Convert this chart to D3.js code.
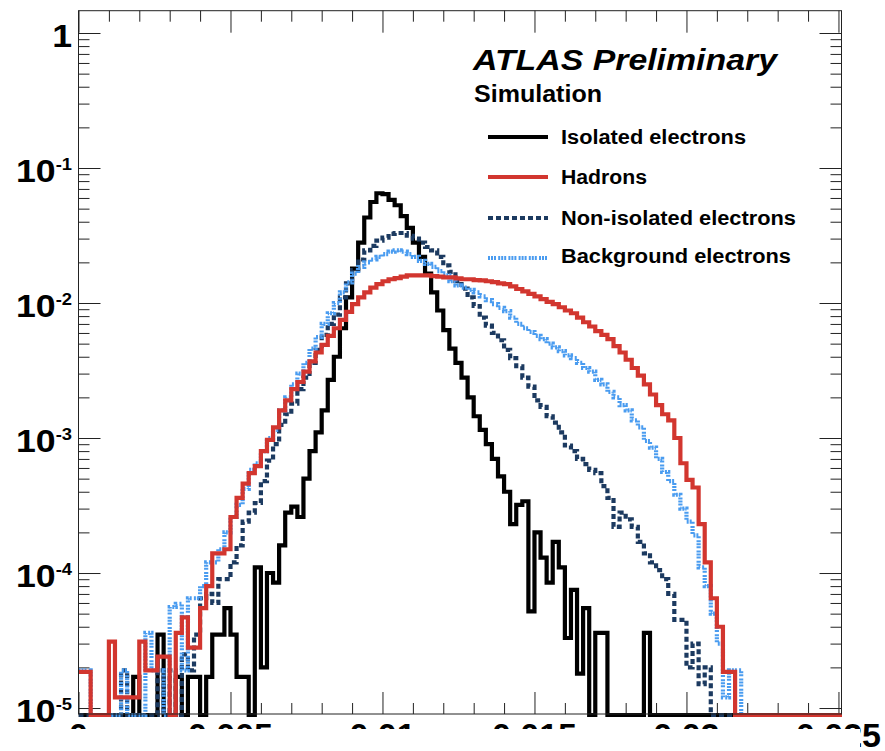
<!DOCTYPE html>
<html>
<head>
<meta charset="utf-8">
<script src="https://cdn.jsdelivr.net/npm/d3@7/dist/d3.min.js"></script>
<style>
  body { margin: 0; background: #fff; }
  svg { display: block; font-family: "Liberation Sans", Arial, Helvetica, sans-serif; }
</style>
</head>
<body>
<svg id="chart" width="885" height="751"></svg>
<script>
// histogram contents, bins of 0.0002 starting at 0 (126 bins)
const binWidth = 0.0002;

const isolatedElectrons = [
  0, 0, 0, 0, 0, 0, 0, 0, 0, 1.7e-5,
  0, 0, 0, 3.5e-5, 0, 0, 1.7e-5, 0, 1.7e-5, 1.7e-5,
  0, 1.7e-5, 3.5e-5, 3.5e-5, 5.5e-5, 3.5e-5, 1.7e-5, 1.7e-5, 0, 1.1e-4,
  2.0e-5, 1.0e-4, 8.5e-5, 1.6e-4, 2.8e-4, 3.1e-4, 2.6e-4, 5.0e-4, 8.0e-4, 1.1e-3,
  1.6e-3, 2.7e-3, 4.0e-3, 6.5e-3, 1.1e-2, 1.8e-2, 2.8e-2, 4.3e-2, 5.6e-2, 6.5e-2,
  6.4e-2, 5.8e-2, 5.3e-2, 4.4e-2, 3.6e-2, 2.8e-2, 2.2e-2, 1.65e-2, 1.2e-2, 8.8e-3,
  6.3e-3, 4.6e-3, 3.6e-3, 2.8e-3, 2.0e-3, 1.45e-3, 1.15e-3, 9.0e-4, 7.0e-4, 5.2e-4,
  4.0e-4, 2.3e-4, 3.2e-4, 3.4e-4, 5.2e-5, 2.0e-4, 1.3e-4, 8.5e-5, 1.7e-4, 1.1e-4,
  3.3e-5, 7.5e-5, 1.8e-5, 5.5e-5, 0, 3.6e-5, 3.6e-5, 0, 0, 0,
  0, 0, 0, 3.6e-5, 0, 0, 0, 0, 0, 0,
  0, 0, 0, 0, 0, 0, 0, 0, 0, 0,
  0, 0, 0, 0, 0, 0, 0, 0, 0, 0,
  0, 0, 0, 0, 0, 0
];

const hadrons = [
  1.85e-5, 1.85e-5, 0, 0, 0, 3.1e-5, 1.2e-5, 1.2e-5, 1.2e-5, 1.2e-5,
  3.1e-5, 1.9e-5, 1.9e-5, 2.4e-5, 2.4e-5, 0, 3.6e-5, 4.7e-5, 2.8e-5, 2.8e-5,
  5.5e-5, 8.0e-5, 1.4e-4, 1.4e-4, 1.5e-4, 2.6e-4, 3.6e-4, 4.6e-4, 5.5e-4, 6.2e-4,
  8.0e-4, 9.7e-4, 1.2e-3, 1.6e-3, 1.9e-3, 2.3e-3, 2.6e-3, 3.1e-3, 3.7e-3, 4.3e-3,
  4.9e-3, 5.7e-3, 6.5e-3, 7.5e-3, 8.6e-3, 9.8e-3, 1.1e-2, 1.2e-2, 1.3e-2, 1.38e-2,
  1.45e-2, 1.5e-2, 1.53e-2, 1.57e-2, 1.6e-2, 1.6e-2, 1.6e-2, 1.6e-2, 1.58e-2, 1.57e-2,
  1.55e-2, 1.55e-2, 1.52e-2, 1.5e-2, 1.5e-2, 1.48e-2, 1.47e-2, 1.45e-2, 1.43e-2, 1.4e-2,
  1.38e-2, 1.33e-2, 1.27e-2, 1.22e-2, 1.17e-2, 1.12e-2, 1.07e-2, 1.02e-2, 9.8e-3, 9.3e-3,
  8.8e-3, 8.4e-3, 7.8e-3, 7.2e-3, 6.7e-3, 6.2e-3, 5.8e-3, 5.4e-3, 4.8e-3, 4.3e-3,
  3.8e-3, 3.3e-3, 2.9e-3, 2.5e-3, 2.1e-3, 1.75e-3, 1.5e-3, 1.35e-3, 1.0e-3, 6.5e-4,
  4.9e-4, 4.3e-4, 2.3e-4, 1.2e-4, 6.5e-5, 4.0e-5, 1.85e-5, 1.85e-5, 0, 0,
  0, 0, 0, 0, 0, 0, 0, 0, 0, 0,
  0, 0, 0, 0, 0, 0
];

const nonIsolatedElectrons = [
  0, 0, 0, 0, 0, 0, 0, 1.9e-5, 0, 0,
  0, 0, 0, 1.9e-5, 0, 1.9e-5, 0, 2.5e-5, 1.9e-5, 3.5e-5,
  6.5e-5, 7.0e-5, 6.0e-5, 9.0e-5, 9.0e-5, 1.2e-4, 1.6e-4, 2.4e-4, 2.8e-4, 3.3e-4,
  4.8e-4, 6.8e-4, 9.0e-4, 1.25e-3, 1.5e-3, 1.8e-3, 2.3e-3, 2.8e-3, 3.6e-3, 4.5e-3,
  5.8e-3, 7.0e-3, 8.2e-3, 1.1e-2, 1.4e-2, 1.75e-2, 2.1e-2, 2.45e-2, 2.65e-2, 2.9e-2,
  3.05e-2, 3.25e-2, 3.3e-2, 3.3e-2, 3.15e-2, 3.0e-2, 2.8e-2, 2.6e-2, 2.45e-2, 2.2e-2,
  1.9e-2, 1.7e-2, 1.45e-2, 1.28e-2, 1.1e-2, 9.5e-3, 7.8e-3, 6.8e-3, 6.0e-3, 5.3e-3,
  4.5e-3, 3.9e-3, 3.4e-3, 2.8e-3, 2.4e-3, 1.9e-3, 1.7e-3, 1.45e-3, 1.3e-3, 1.1e-3,
  8.8e-4, 8.0e-4, 7.0e-4, 6.4e-4, 5.8e-4, 5.5e-4, 4.4e-4, 3.6e-4, 2.2e-4, 2.8e-4,
  2.5e-4, 2.2e-4, 1.7e-4, 1.4e-4, 1.2e-4, 1.05e-4, 9.0e-5, 7.0e-5, 4.5e-5, 4.5e-5,
  2.0e-5, 3.0e-5, 1.5e-5, 2.0e-5, 0, 0, 0, 0, 0, 0,
  0, 0, 0, 0, 0, 0, 0, 0, 0, 0,
  0, 0, 0, 0, 0, 0
];

const backgroundElectrons = [
  1.9e-5, 1.9e-5, 0, 0, 0, 0, 0, 1.9e-5, 0, 0,
  0, 3.6e-5, 1.9e-5, 1.9e-5, 0, 5.6e-5, 5.9e-5, 1.9e-5, 6.5e-5, 6.5e-5,
  8.0e-5, 1.2e-4, 1.2e-4, 1.5e-4, 2.0e-4, 2.6e-4, 3.2e-4, 4.2e-4, 5.8e-4, 6.5e-4,
  8.0e-4, 1.0e-3, 1.15e-3, 1.6e-3, 2.0e-3, 2.5e-3, 3.0e-3, 3.6e-3, 4.6e-3, 5.6e-3,
  7.0e-3, 8.4e-3, 1.0e-2, 1.2e-2, 1.42e-2, 1.65e-2, 1.85e-2, 2.0e-2, 2.1e-2, 2.2e-2,
  2.3e-2, 2.4e-2, 2.45e-2, 2.4e-2, 2.3e-2, 2.2e-2, 2.05e-2, 1.95e-2, 1.85e-2, 1.72e-2,
  1.6e-2, 1.45e-2, 1.35e-2, 1.3e-2, 1.25e-2, 1.2e-2, 1.12e-2, 1.05e-2, 9.8e-3, 9.2e-3,
  8.7e-3, 7.8e-3, 7.0e-3, 6.5e-3, 6.1e-3, 5.7e-3, 5.4e-3, 5.0e-3, 4.7e-3, 4.4e-3,
  4.1e-3, 3.9e-3, 3.6e-3, 3.3e-3, 3.1e-3, 2.7e-3, 2.5e-3, 2.2e-3, 2.0e-3, 1.75e-3,
  1.6e-3, 1.35e-3, 1.2e-3, 9.5e-4, 8.5e-4, 7.0e-4, 5.6e-4, 4.8e-4, 3.8e-4, 3.0e-4,
  2.4e-4, 1.9e-4, 1.1e-4, 8.0e-5, 5.0e-5, 3.0e-5, 1.2e-5, 1.9e-5, 1.9e-5, 0,
  0, 0, 0, 0, 0, 0, 0, 0, 0, 0,
  0, 0, 0, 0, 0, 0
];

const xMajorTicks = [0, 0.005, 0.01, 0.015, 0.02, 0.025];
const xTickLabels = ["0", "0.005", "0.01", "0.015", "0.02", "0.025"];
const yDecades = [1e-5, 1e-4, 1e-3, 1e-2, 1e-1, 1];
const yDecadeExp = [-5, -4, -3, -2, -1, 0];

const series = [
  { name: "Isolated electrons", values: isolatedElectrons, color: "#000000", dash: null },
  { name: "Hadrons", values: hadrons, color: "#d2362f", dash: null },
  { name: "Non-isolated electrons", values: nonIsolatedElectrons, color: "#1c3a60", dash: "5,3" },
  { name: "Background electrons", values: backgroundElectrons, color: "#4a9cf0", dash: "2,1,2,1,2,2.2" }
];
// drawing order in the frame (red on top)
const drawOrder = [0, 2, 3, 1];

const d3 = window.d3;
const svg = d3.select("#chart");

const frame = { left: 78.5, right: 841.5, top: 10.7, bottom: 714 };
const lineW = 4.2;

const x = d3.scaleLinear().domain([0, 0.0251]).range([frame.left, frame.right]);
const y = d3.scaleLog().domain([9.03e-6, 1.463]).range([frame.bottom, frame.top]);

// ticks
const xMinor = d3.range(0, 26).map(i => i * 0.001).filter(v => !xMajorTicks.some(m => Math.abs(m - v) < 1e-9));
const yMinor = [];
for (const d of yDecades) {
  for (let k = 2; k <= 9; k++) {
    const v = d * k;
    if (v >= y.domain()[0] && v <= y.domain()[1]) yMinor.push(v);
  }
}

function tickGroup(axis, transform) {
  svg.append("g")
    .attr("transform", transform)
    .call(axis.tickFormat(""))
    .call(g => g.select(".domain").remove())
    .call(g => g.selectAll(".tick line").attr("stroke", "#222").attr("stroke-width", 1));
}

tickGroup(d3.axisLeft(y).tickValues(yDecades).tickSize(-22), `translate(${frame.left},0)`);
tickGroup(d3.axisLeft(y).tickValues(yMinor).tickSize(-11), `translate(${frame.left},0)`);
tickGroup(d3.axisRight(y).tickValues(yDecades).tickSize(-22), `translate(${frame.right},0)`);
tickGroup(d3.axisRight(y).tickValues(yMinor).tickSize(-11), `translate(${frame.right},0)`);
tickGroup(d3.axisBottom(x).tickValues(xMajorTicks).tickSize(-22), `translate(0,${frame.bottom})`);
tickGroup(d3.axisBottom(x).tickValues(xMinor).tickSize(-11), `translate(0,${frame.bottom})`);
tickGroup(d3.axisTop(x).tickValues(xMajorTicks).tickSize(-22), `translate(0,${frame.top})`);
tickGroup(d3.axisTop(x).tickValues(xMinor).tickSize(-11), `translate(0,${frame.top})`);

// histograms
svg.append("defs").append("clipPath")
  .attr("id", "clipFrame")
  .append("rect")
  .attr("x", frame.left)
  .attr("y", frame.top)
  .attr("width", frame.right - frame.left + 0.5)
  .attr("height", frame.bottom - frame.top + 3.5);

const stepLine = d3.line().curve(d3.curveStepAfter);

function histPoints(values) {
  const yFloor = y.range()[0] + 1;
  const pts = values.map((v, i) => [x(i * binWidth), v > 0 ? y(v) : yFloor]);
  const last = values[values.length - 1];
  pts.push([x(values.length * binWidth), last > 0 ? y(last) : yFloor]);
  return pts;
}

const gHist = svg.append("g").attr("clip-path", "url(#clipFrame)");
for (const idx of drawOrder) {
  const s = series[idx];
  gHist.append("path")
    .attr("d", stepLine(histPoints(s.values)))
    .attr("fill", "none")
    .attr("stroke", s.color)
    .attr("stroke-width", lineW)
    .attr("stroke-dasharray", s.dash)
    .attr("stroke-linejoin", "miter");
}

// frame
svg.append("rect")
  .attr("x", frame.left)
  .attr("y", frame.top)
  .attr("width", frame.right - frame.left)
  .attr("height", frame.bottom - frame.top)
  .attr("fill", "none")
  .attr("stroke", "#222")
  .attr("stroke-width", 1);

// y labels
yDecades.forEach((v, i) => {
  const g = svg.append("g")
    .attr("transform", `translate(72,${y(v) + 14}) scale(1.15,1)`);
  const t = g.append("text")
    .attr("text-anchor", "end")
    .attr("font-size", 31)
    .attr("font-weight", "bold")
    .attr("fill", "#000");
  if (yDecadeExp[i] === 0) {
    t.text("1");
  } else {
    t.append("tspan").text("10");
    t.append("tspan").attr("font-size", 16).attr("dy", -12).text(String(yDecadeExp[i]));
  }
});

// x labels (lower part of the picture is cut off)
xMajorTicks.forEach((v, i) => {
  svg.append("text")
    .attr("x", x(v))
    .attr("y", 747)
    .attr("text-anchor", "middle")
    .attr("font-size", 34)
    .attr("font-weight", "bold")
    .attr("fill", "#000")
    .text(xTickLabels[i]);
});
svg.append("rect")
  .attr("x", 0).attr("y", 729)
  .attr("width", 860).attr("height", 22)
  .attr("fill", "#fff");

// titles
svg.append("text")
  .attr("x", 473).attr("y", 70)
  .attr("font-size", 30)
  .attr("font-weight", "bold")
  .attr("font-style", "italic")
  .attr("textLength", 304)
  .attr("lengthAdjust", "spacingAndGlyphs")
  .text("ATLAS Preliminary");

svg.append("text")
  .attr("x", 474).attr("y", 102)
  .attr("font-size", 24)
  .attr("font-weight", "bold")
  .attr("textLength", 128)
  .attr("lengthAdjust", "spacingAndGlyphs")
  .text("Simulation");

// legend
const legendRows = [
  { base: 144, line: 137, width: 185 },
  { base: 184, line: 177, width: 86 },
  { base: 225, line: 218, width: 235 },
  { base: 263, line: 258, width: 230 }
];
const legend = svg.append("g");
series.forEach((s, i) => {
  const row = legendRows[i];
  legend.append("line")
    .attr("x1", 488).attr("x2", 548)
    .attr("y1", row.line).attr("y2", row.line)
    .attr("stroke", s.color)
    .attr("stroke-width", lineW)
    .attr("stroke-dasharray", s.dash);
  legend.append("text")
    .attr("x", 561).attr("y", row.base)
    .attr("font-size", 20)
    .attr("font-weight", "bold")
    .attr("textLength", row.width)
    .attr("lengthAdjust", "spacingAndGlyphs")
    .text(s.name);
});
</script>
</body>
</html>
